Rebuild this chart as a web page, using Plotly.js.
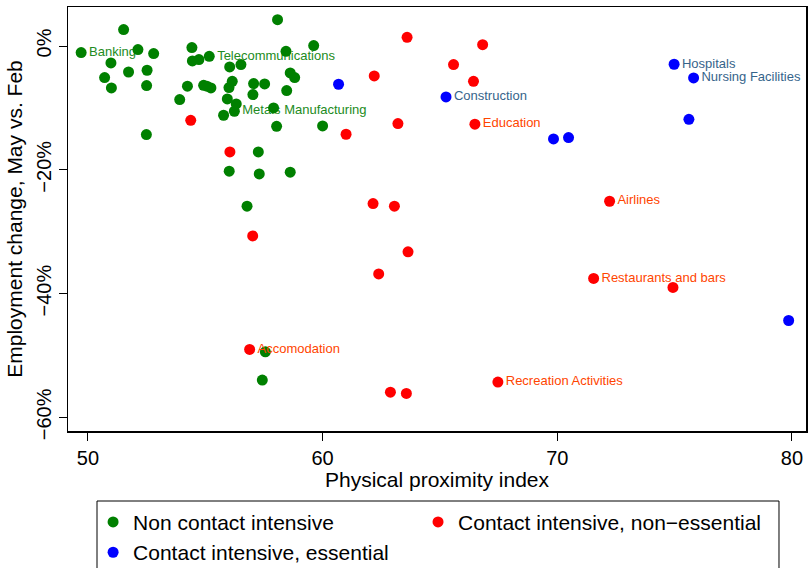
<!DOCTYPE html>
<html>
<head>
<meta charset="utf-8">
<script src="https://cdn.plot.ly/plotly-3.0.1.min.js"></script>
<style>html,body{margin:0;padding:0;background:#fff;}#chart{width:808px;height:568px;}</style>
</head>
<body>
<div id="chart"></div>
<script>
// Non contact intensive
const greenX = [49.71, 51.52, 52.13, 52.80, 50.98, 51.73, 52.52, 50.71, 51.00, 52.50, 52.49, 54.43, 54.45, 54.73, 55.17, 54.24, 53.91, 54.93, 55.07, 55.24, 56.04, 56.52, 56.15, 56.01, 55.94, 56.32, 55.78, 56.24, 57.06, 57.53, 57.03, 58.08, 58.44, 59.62, 58.62, 58.81, 58.47, 57.91, 58.04, 60.00, 57.26, 56.02, 57.30, 58.62, 56.78, 57.56, 57.43];
const greenY = [-1.07, 2.65, -0.58, -1.23, -2.74, -4.2, -3.92, -5.1, -6.78, -6.4, -14.31, -0.26, -2.42, -2.2, -1.66, -6.5, -8.66, -6.35, -6.5, -6.78, -3.39, -3.0, -5.7, -6.72, -8.56, -9.36, -11.19, -10.54, -6.07, -6.13, -7.85, 4.26, -0.86, 0.06, -4.36, -5.1, -7.2, -10.01, -12.97, -12.92, -17.12, -20.23, -20.67, -20.39, -25.88, -49.4, -53.98];
const greenLabels = greenX.map(() => '');
greenLabels[0] = 'Banking';
greenLabels[14] = 'Telecommunications';
greenLabels[27] = 'Metals Manufacturing';

// Contact intensive, non-essential
const redX = [54.38, 56.05, 61.00, 63.21, 66.49, 62.15, 63.06, 57.02, 63.64, 62.39, 56.89, 62.89, 63.57, 63.60, 66.82, 65.58, 62.20, 66.43, 72.23, 71.55, 74.93, 67.47];
const redY = [-12.0, -17.12, -14.26, -12.53, -12.64, -25.45, -25.88, -30.68, -33.26, -36.82, -49.03, -55.92, -56.13, 1.40, 0.22, -3.0, -4.84, -5.7, -25.08, -37.56, -39.0, -54.3];
const redLabels = redX.map(() => '');
redLabels[4] = 'Education';
redLabels[10] = 'Accomodation';
redLabels[18] = 'Airlines';
redLabels[19] = 'Restaurants and bars';
redLabels[21] = 'Recreation Activities';

// Contact intensive, essential
const blueX = [60.68, 65.26, 74.98, 75.81, 75.61, 69.84, 70.48, 79.86];
const blueY = [-6.18, -8.23, -2.95, -5.16, -11.84, -15.02, -14.8, -44.35];
const blueLabels = ['', 'Construction', 'Hospitals', 'Nursing Facilities', '', '', '', ''];

const seriesNames = ['Non contact intensive', 'Contact intensive, non\u2212essential', 'Contact intensive, essential'];
const xTicks = [50, 60, 70, 80];
const yTicks = [0, -20, -40, -60];
const yTickText = ['0%', '\u221220%', '\u221240%', '\u221260%'];

const FONT = 'Liberation Sans, Arial, Helvetica, sans-serif';

function labelTrace(x, y, labels, color) {
  return {
    x: x, y: y, text: labels, type: 'scatter', mode: 'markers+text',
    textposition: 'middle right',
    textfont: {family: FONT, size: 13, color: color},
    marker: {size: 11, color: 'rgba(0,0,0,0)'},
    showlegend: false, hoverinfo: 'skip'
  };
}
function pointTrace(x, y, name, color, legendId) {
  return {
    x: x, y: y, name: name, type: 'scatter', mode: 'markers',
    marker: {size: 11, color: color}, legend: legendId
  };
}

const data = [
  labelTrace(greenX, greenY, greenLabels, '#228B22'),
  pointTrace(greenX, greenY, seriesNames[0], '#008000', 'legend'),
  labelTrace(redX, redY, redLabels, '#FF4500'),
  pointTrace(redX, redY, seriesNames[1], '#FF0000', 'legend2'),
  labelTrace(blueX, blueY, blueLabels, '#36648B'),
  pointTrace(blueX, blueY, seriesNames[2], '#0000FF', 'legend')
];

const legendFont = {size: 21, family: FONT, color: '#000'};

const layout = {
  width: 808, height: 568,
  margin: {l: 68, r: 2, t: 7, b: 137, autoexpand: false},
  paper_bgcolor: '#fff', plot_bgcolor: '#fff',
  font: {family: FONT, color: '#000'},
  xaxis: {
    range: [49.15, 80.6], tickvals: xTicks, ticks: 'outside', ticklen: 8, tickwidth: 1, tickcolor: '#000',
    showline: true, mirror: true, linecolor: '#000', linewidth: 1.5,
    showgrid: false, zeroline: false,
    tickfont: {size: 20, family: FONT},
    title: {text: 'Physical proximity index', font: {size: 21, family: FONT}, standoff: 0},
    automargin: false
  },
  yaxis: {
    range: [-62.2, 6.3], tickvals: yTicks, ticktext: yTickText, tickangle: -90,
    ticks: 'outside', ticklen: 8, tickwidth: 1, tickcolor: '#000',
    showline: true, mirror: true, linecolor: '#000', linewidth: 1.5,
    showgrid: false, zeroline: false,
    tickfont: {size: 20, family: FONT},
    title: {text: 'Employment change, May vs. Feb', font: {size: 21, family: FONT}, standoff: 4},
    automargin: false
  },
  legend: {
    orientation: 'v', x: 0.034, xanchor: 'left', y: -0.167, yanchor: 'top',
    borderwidth: 0, bgcolor: 'rgba(0,0,0,0)', font: legendFont, traceorder: 'normal'
  },
  legend2: {
    orientation: 'v', x: 0.4743, xanchor: 'left', y: -0.167, yanchor: 'top',
    borderwidth: 0, bgcolor: 'rgba(0,0,0,0)', font: legendFont
  },
  shapes: [{
    type: 'rect', xref: 'paper', yref: 'paper',
    x0: 0.0393, x1: 0.9634, y0: -0.1651, y1: -0.36,
    line: {color: '#000', width: 1}, fillcolor: 'rgba(0,0,0,0)', layer: 'above'
  }],
  showlegend: true
};

Plotly.newPlot('chart', data, layout, {displayModeBar: false, staticPlot: true});
</script>
</body>
</html>
